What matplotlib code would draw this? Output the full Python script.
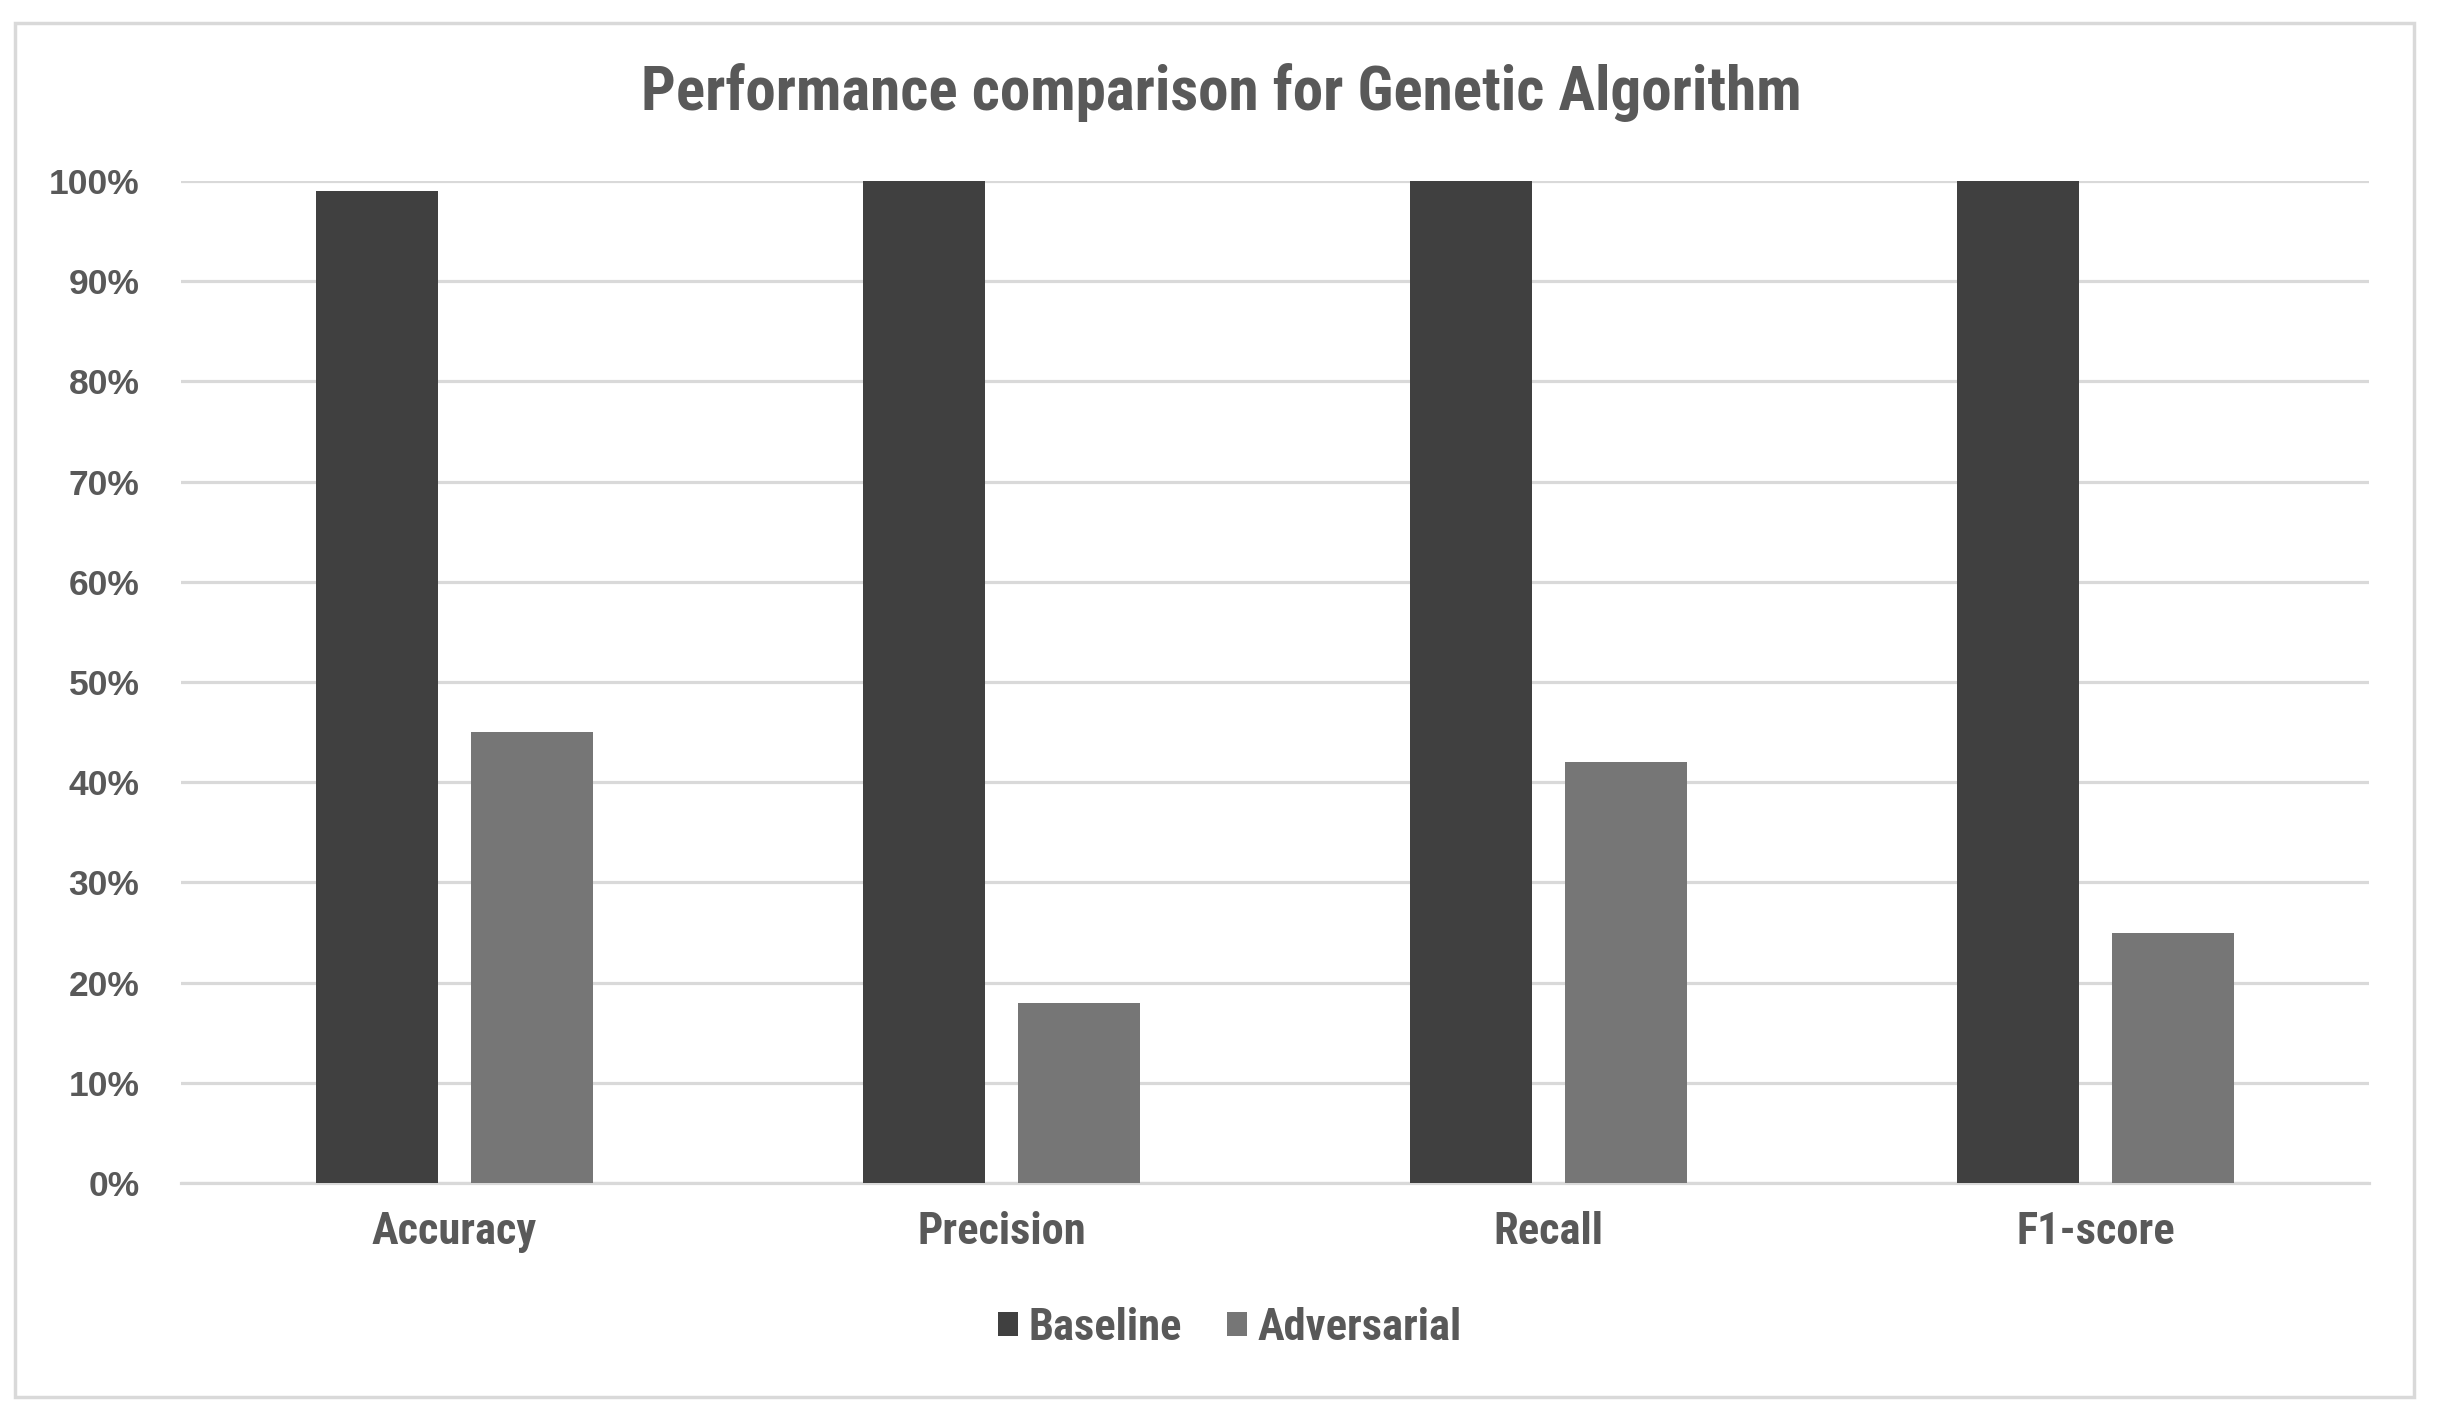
import matplotlib
matplotlib.use("Agg")
import matplotlib.pyplot as plt
from matplotlib.patches import Rectangle
from matplotlib.ticker import FuncFormatter
import numpy as np

categories = ["Accuracy", "Precision", "Recall", "F1-score"]
baseline = [0.99, 1.00, 1.00, 1.00]
adversarial = [0.45, 0.18, 0.42, 0.25]
series_names = ["Baseline", "Adversarial"]
yticks = [0, 0.1, 0.2, 0.3, 0.4, 0.5, 0.6, 0.7, 0.8, 0.9, 1.0]

TXT = "#595959"
GRID = "#d9d9d9"
C_BASE = "#404040"
C_ADV = "#767676"
NARROW = ["Roboto Condensed", "DejaVu Sans"]
REG = ["Liberation Sans", "DejaVu Sans"]

fig = plt.figure(figsize=(24.37, 14.26), dpi=100)
W, H = 2437, 1426
ax = fig.add_axes([181 / W, 1 - 1183 / H, (2369 - 181) / W, (1183 - 181) / H])

x = np.arange(len(categories))
bw = 0.224
off = 0.142
b1 = ax.bar(x - off, baseline, bw, color=C_BASE, label=series_names[0], zorder=3)
b2 = ax.bar(x + off, adversarial, bw, color=C_ADV, label=series_names[1], zorder=3)

ax.set_xlim(-0.5, len(categories) - 0.5)
ax.set_ylim(0, 1.0)
ax.set_yticks(yticks)
ax.yaxis.set_major_formatter(FuncFormatter(lambda v, p: f"{int(round(v * 100))}%"))
ax.set_xticks(x)
ax.set_xticklabels(categories)
for lab in ax.get_xticklabels():
    lab.set_family(NARROW)
    lab.set_stretch("condensed")
    lab.set_fontweight("bold")
    lab.set_fontsize(32)
    lab.set_color(TXT)
for lab in ax.get_yticklabels():
    lab.set_family(REG)
    lab.set_fontweight("bold")
    lab.set_fontsize(25.5)
    lab.set_color(TXT)
ax.tick_params(axis="y", length=0, pad=30)
ax.tick_params(axis="x", length=0, pad=20)
ax.grid(axis="y", color=GRID, linewidth=2.3, zorder=0)
ax.set_axisbelow(True)
for s in ["top", "right", "left"]:
    ax.spines[s].set_visible(False)
ax.spines["bottom"].set_color(GRID)
ax.spines["bottom"].set_linewidth(2.3)
ax.spines["bottom"].set_zorder(1)

fig.text(1221 / W, 1 - 93 / H, "Performance comparison for Genetic Algorithm",
         ha="center", va="center", fontsize=44, fontweight="bold",
         color=TXT, family=NARROW, stretch="condensed")

leg = fig.legend(handles=[b1, b2], labels=series_names, loc="center",
                 bbox_to_anchor=(1230 / W, 1 - 1328 / H), ncol=2, frameon=False,
                 prop={"family": NARROW, "weight": "bold", "size": 32,
                       "stretch": "condensed"},
                 handlelength=0.45, handleheight=0.45, handletextpad=0.25,
                 columnspacing=1.0)
for t in leg.get_texts():
    t.set_color(TXT)

fig.patches.append(Rectangle((15 / W, 1 - 1397 / H), (2414 - 15) / W, (1397 - 23) / H,
                             transform=fig.transFigure, fill=False,
                             edgecolor=GRID, linewidth=2.5))

fig.savefig("out.png", dpi=100, facecolor="white")
